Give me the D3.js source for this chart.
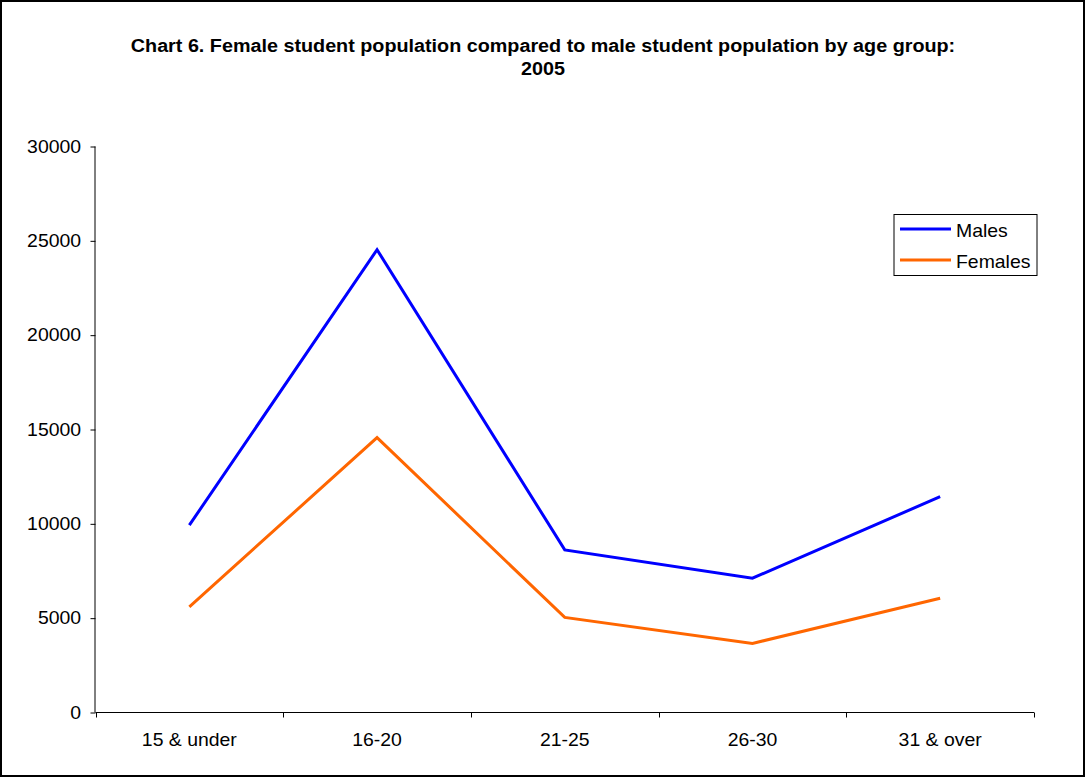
<!DOCTYPE html>
<html><head><meta charset="utf-8">
<script src="https://cdn.jsdelivr.net/npm/d3@7"></script>
<style>
body{margin:0;background:#fff;}
svg text{font-family:"Liberation Sans",Arial,sans-serif;fill:#000;}
</style></head>
<body><svg id="c" width="1086" height="778"></svg>
<script>
const categories = ["15 & under","16-20","21-25","26-30","31 & over"];
const males = [9930, 24530, 8620, 7120, 11440];
const females = [5600, 14570, 5040, 3660, 6060];
const yTicks = [0,5000,10000,15000,20000,25000,30000];
const seriesNames = ["Males","Females"];
const seriesColors = ["#0000ff","#ff6600"];
const titleLines = ["Chart 6. Female student population compared to male student population by age group:","2005"];

const FS = "17.5px", SX = 1.11;
const svg = d3.select("#c");
svg.append("rect").attr("x",1).attr("y",1).attr("width",1083).attr("height",775)
  .attr("fill","#fff").attr("stroke","#000").attr("stroke-width",2);

const x0=95.5, x1=1034, yTop=146.5, yBot=712.5;
const x = d3.scaleBand().domain(categories).range([x0,x1]);
const y = d3.scaleLinear().domain([0,30000]).range([yBot,yTop]);

titleLines.forEach((t,i)=>{
  svg.append("g").attr("transform",`translate(543,${51.5+i*23.5}) scale(1.13,1)`)
    .append("text").attr("text-anchor","middle").attr("font-weight","bold")
    .attr("font-size",FS).text(t);
});

const ya = svg.append("g").attr("transform",`translate(${x0},0)`)
  .call(d3.axisLeft(y).tickValues(yTicks).tickSize(5).tickPadding(8).tickFormat(d3.format("d")));
ya.select(".domain").attr("d",`M-0.5,${yTop}V${yBot}`).attr("stroke","#000");
ya.selectAll("text").attr("font-size",FS).attr("font-family","Liberation Sans, Arial, sans-serif")
  .attr("transform",`scale(${SX},1)`);

const xa = svg.append("g").attr("transform",`translate(0,${yBot})`)
  .call(d3.axisBottom(x).tickSize(0).tickPadding(21));
xa.select(".domain").attr("d",`M${x0},0H${x1}`).attr("stroke","#000");
xa.selectAll("text").attr("font-size",FS).attr("font-family","Liberation Sans, Arial, sans-serif")
  .attr("transform",`scale(${SX},1)`);
const bounds = categories.map(c=>x(c)).concat([x1]);
xa.selectAll(".bt").data(bounds).enter().append("line").attr("class","bt")
  .attr("x1",d=>Math.round(d)+0.5).attr("x2",d=>Math.round(d)+0.5).attr("y1",0).attr("y2",5).attr("stroke","#000");

const line = d3.line().x((d,i)=>x(categories[i])+x.bandwidth()/2).y(d=>y(d));
[males,females].forEach((s,i)=>{
  svg.append("path").datum(s).attr("d",line).attr("fill","none")
    .attr("stroke",seriesColors[i]).attr("stroke-width",3).attr("stroke-linejoin","miter");
});

const lg = svg.append("g");
lg.append("rect").attr("x",894).attr("y",214.5).attr("width",143).attr("height",61)
  .attr("fill","#fff").attr("stroke","#000").attr("stroke-width",1);
seriesNames.forEach((n,i)=>{
  const yy = 229 + i*31;
  lg.append("line").attr("x1",900).attr("x2",951).attr("y1",yy).attr("y2",yy)
    .attr("stroke",seriesColors[i]).attr("stroke-width",3);
  lg.append("g").attr("transform",`translate(956,${yy+7.5}) scale(${SX},1)`)
    .append("text").attr("font-size",FS).text(n);
});
</script></body></html>
